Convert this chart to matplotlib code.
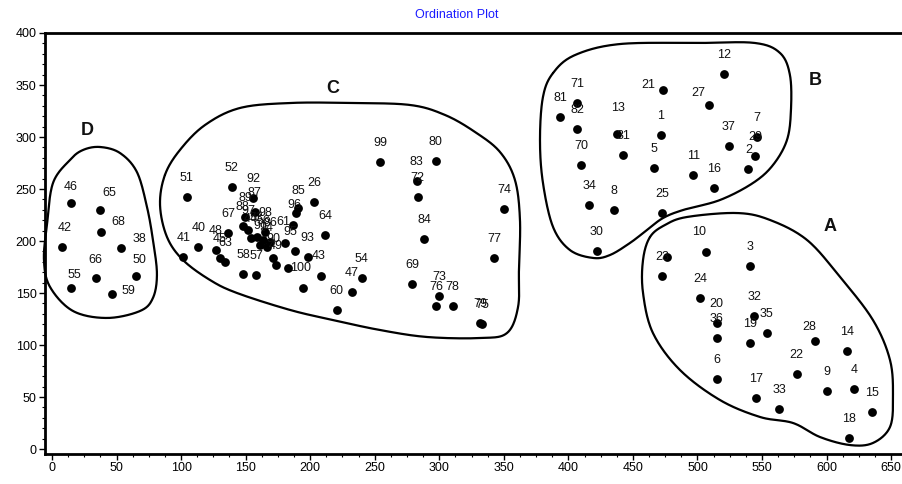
import numpy as np
import matplotlib
matplotlib.use("Agg")
import matplotlib.pyplot as plt

plt.rcParams['font.family'] = ['Liberation Sans', 'DejaVu Sans']

# ---------------- data ----------------
labels = ['46', '65', '68', '42', '38', '66', '50', '55', '59',
          '51', '52', '92', '87', '89', '88', '67', '48', '40', '41', '45', '63', '58', '57',
          '85', '96', '26', '64', '61', '95', '93', '43', '100', '', '', '54', '47', '60',
          '99', '80', '83', '72', '84', '69', '73', '76', '78', '75', '79', '77', '74',
          '44', '53', '56', '91', '94', '97', '98', '86', '90', '49',
          '12', '71', '81', '82', '21', '27', '13', '31', '1', '5', '7', '29', '2', '37',
          '11', '16', '70', '34', '8', '25', '30',
          '10', '3', '23', '', '24', '20', '36', '32', '35', '19', '28', '14', '6', '22',
          '9', '4', '15', '17', '33', '18']
x_vals = [14.5, 37.2, 38.0, 7.5, 53.2, 33.8, 65.1, 14.5, 46.2,
          104.3, 139.2, 155.9, 157.2, 149.5, 147.7, 136.6, 127.0, 113.3, 101.7, 130.1, 134.0, 148.2, 158.0,
          190.5, 189.0, 203.2, 211.5, 186.9, 180.5, 188.2, 198.5, 183.0, 208.4, 194.2, 239.9, 232.1, 220.5,
          254.1, 297.4, 282.5, 283.3, 288.4, 279.1, 300.0, 297.4, 310.4, 333.3, 331.9, 342.4, 350.1,
          154.2, 158.6, 163.7, 161.1, 166.3, 152.1, 165.0, 168.9, 171.4, 173.5,
          520.5, 406.9, 393.5, 406.9, 473.5, 509.1, 437.9, 442.5, 471.5, 466.5, 545.9, 544.5, 539.4, 524.4,
          496.7, 513.0, 409.8, 416.2, 435.3, 472.7, 421.9,
          506.6, 540.7, 472.7, 476.1, 501.9, 514.9, 514.9, 544.0, 553.6, 540.7, 591.0, 615.6, 515.3, 576.8,
          600.5, 621.5, 634.9, 545.3, 563.1, 617.6]
y_vals = [236.2, 229.8, 208.4, 193.9, 193.0, 164.1, 166.3, 154.5, 148.8,
          242.6, 251.6, 241.6, 228.2, 223.4, 214.4, 207.4, 191.3, 193.9, 184.9, 183.4, 180.1, 168.3, 167.3,
          231.7, 226.9, 237.8, 205.8, 215.4, 198.4, 190.4, 184.3, 173.8, 166.3, 154.5, 164.4, 150.7, 133.7,
          276.0, 277.2, 258.0, 242.6, 201.9, 158.7, 147.1, 137.8, 137.8, 120.2, 120.7, 183.9, 230.5,
          202.6, 204.1, 201.0, 196.2, 194.5, 210.6, 208.9, 199.3, 183.4, 176.9,
          360.6, 333.0, 319.5, 307.4, 345.2, 330.8, 302.6, 282.7, 301.9, 269.9, 299.7, 281.7, 268.9, 291.3,
          263.5, 251.3, 273.1, 234.6, 229.8, 227.2, 190.7,
          189.7, 176.0, 166.3, 184.9, 145.5, 121.4, 106.4, 127.9, 111.8, 101.6, 104.1, 94.2, 67.0, 71.8,
          55.8, 57.4, 35.9, 48.8, 38.2, 10.9]

# cluster outlines (data units)
hull_d_x = [37.2, 52.7, 65.8, 73.6, 78.2, 81.3, 78.2, 68.2, 42.6, 16.3, -1.5, -6.2, -3.9, 0.8, 13.9, 24.0]
hull_d_y = [290.4, 284.6, 266.3, 232.7, 201.0, 168.3, 145.2, 132.7, 126.0, 132.7, 155.8, 181.7, 215.4, 255.8, 277.9, 287.5]
hull_c_x = [87.5, 99.1, 118.5, 145.6, 184.4, 230.8, 277.3, 304.4, 327.7, 347.0, 358.6, 362.5, 361.7,
            361.0, 352.4, 331.5, 290.5, 254.1, 217.7, 184.4, 143.3, 122.4, 101.5, 89.1, 83.7]
hull_c_y = [263.5, 287.5, 311.5, 327.9, 332.7, 332.7, 330.8, 321.2, 304.8, 285.6, 258.7, 220.2, 172.1,
            136.5, 111.5, 106.7, 107.7, 114.4, 124.0, 133.7, 150.0, 162.5, 181.7, 203.8, 234.6]
hull_b_x = [388.1, 405.1, 440.0, 501.9, 544.5, 563.9, 571.6, 572.4, 569.3, 558.5, 543.0, 517.4, 488.8,
            473.3, 460.9, 447.7, 432.2, 419.1, 401.2, 388.1, 380.3, 378.0, 380.3]
hull_b_y = [361.5, 378.8, 389.4, 390.4, 390.4, 380.8, 359.6, 326.0, 297.1, 273.1, 255.8, 239.4, 229.8,
            222.1, 210.6, 198.1, 186.5, 183.7, 191.3, 213.5, 255.8, 297.1, 338.5]
hull_a_x = [463.2, 474.8, 491.9, 530.6, 556.2, 584.8, 610.4, 635.9, 649.1, 651.4, 649.1, 635.9, 618.1,
            594.9, 574.0, 548.4, 517.4, 486.4, 465.5, 457.8, 457.8]
hull_a_y = [203.8, 215.4, 223.1, 226.9, 220.2, 201.0, 165.4, 124.0, 85.6, 50.0, 21.2, 5.8, 3.8,
            11.5, 25.0, 30.8, 47.1, 76.0, 111.5, 150.0, 181.7]

cluster_names = ['A', 'B', 'C', 'D']
cluster_name_x = [602.6, 591.0, 217.7, 27.1]
cluster_name_y = [214.4, 354.8, 346.2, 306.7]

x_ticks = list(range(0, 651, 50))
y_ticks = list(range(0, 401, 50))

# label offsets in pixels (dx right, dy down); default is above the point
default_offset = (0, -19)
label_offsets = {
    '46': (0, -16), '65': (9, -17), '68': (17, -10), '42': (3, -19), '38': (19, -9),
    '66': (0, -18), '50': (3, -16), '55': (4, -13), '59': (17, -3),
    '96': (-2, -8), '61': (-10, -3), '95': (5, -11), '93': (12, -13), '43': (10, -1),
    '100': (12, 0), '85': (0, -17),
    '21': (-15, -5), '27': (-11, -12), '13': (1, -26),
    '10': (-7, -20), '28': (-6, -14),
}


def closed_spline(xs, ys, n=24):
    p = np.column_stack([xs, ys]).astype(float)
    m = len(p)
    out = []
    t = np.linspace(0, 1, n, endpoint=False)[:, None]
    for i in range(m):
        p0, p1, p2, p3 = p[(i - 1) % m], p[i], p[(i + 1) % m], p[(i + 2) % m]
        seg = 0.5 * ((2 * p1) + (-p0 + p2) * t + (2 * p0 - 5 * p1 + 4 * p2 - p3) * t ** 2
                     + (-p0 + 3 * p1 - 3 * p2 + p3) * t ** 3)
        out.append(seg)
    out = np.vstack(out + [p[:1]])
    return out[:, 0], out[:, 1]


W, H = 902, 484
fig = plt.figure(figsize=(W / 100, H / 100), dpi=100)
ax = fig.add_axes([45 / W, 30 / H, (W - 45) / W, (454 - 33) / H])

for hx, hy in [(hull_a_x, hull_a_y), (hull_b_x, hull_b_y), (hull_c_x, hull_c_y), (hull_d_x, hull_d_y)]:
    sx, sy = closed_spline(hx, hy)
    ax.plot(sx, sy, color='black', lw=1.6, solid_capstyle='round', zorder=2, clip_on=False)

ax.scatter(x_vals, y_vals, s=40, color='black', marker='o', zorder=3, linewidths=0)

for lab, xv, yv in zip(labels, x_vals, y_vals):
    if not lab:
        continue
    dx, dy = label_offsets.get(lab, default_offset)
    ax.annotate(lab, (xv, yv), xytext=(dx * 0.72, -dy * 0.72), textcoords='offset points',
                ha='center', va='center', fontsize=9, color='#111111', zorder=4)

for nm, xv, yv in zip(cluster_names, cluster_name_x, cluster_name_y):
    ax.text(xv, yv, nm, fontsize=13, fontweight='bold', ha='center', va='center', color='#111111')

ax.set_xlim(-5.4, 658.4)
ax.set_ylim(-4.8, 400.0)
ax.set_xticks(x_ticks)
ax.set_yticks(y_ticks)
ax.set_xticks(np.arange(0, 651, 12.5), minor=True)
ax.set_yticks(np.arange(0, 401, 10), minor=True)
ax.tick_params(axis='both', which='major', length=4, width=1, labelsize=9, direction='out', pad=2)
ax.tick_params(axis='both', which='minor', length=2.5, width=0.8, direction='out')
for side in ['left', 'bottom', 'top']:
    ax.spines[side].set_linewidth(2)
ax.spines['right'].set_visible(False)

fig.text(457 / W, 1 - 15 / H, 'Ordination Plot', color='#1a1aff', fontsize=9, ha='center', va='center')

fig.savefig('out.png', dpi=100)
